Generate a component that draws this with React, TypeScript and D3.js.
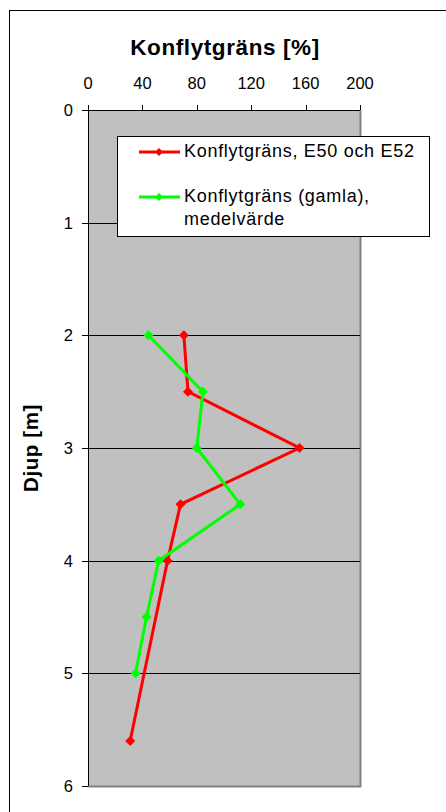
import React from 'react';
import * as d3 from 'd3';

// Konflytgräns (E50 och E52)
const redDepth = [2, 2.5, 3, 3.5, 4, 5.6];
const redValue = [70.5, 73.5, 155.5, 68, 58.5, 31];
// Konflytgräns (gamla), medelvärde
const greenDepth = [2, 2.5, 3, 3.5, 4, 4.5, 5];
const greenValue = [44.5, 84.5, 80, 112, 52, 43, 35];

const xTicks = [0, 40, 80, 120, 160, 200];
const yTicks = [0, 1, 2, 3, 4, 5, 6];
const seriesNames = ['Konflytgräns, E50 och E52', 'Konflytgräns (gamla),', 'medelvärde'];

const W = 446, H = 812;
const margin = { left: 88, top: 110, right: 86, bottom: 26 };
const font = "'Liberation Sans', Arial, sans-serif";

export default function App() {
  const x = d3.scaleLinear().domain([0, 200]).range([margin.left, W - margin.right]);
  const y = d3.scaleLinear().domain([0, 6]).range([margin.top, H - margin.bottom]);

  const line = d3.line<[number, number]>().x(d => x(d[1])).y(d => y(d[0]));
  const redPts: [number, number][] = redDepth.map((d, i) => [d, redValue[i]]);
  const greenPts: [number, number][] = greenDepth.map((d, i) => [d, greenValue[i]]);

  const diamond = (cx: number, cy: number, r: number) =>
    `M${cx},${cy - r}L${cx + r},${cy}L${cx},${cy + r}L${cx - r},${cy}Z`;

  const x0 = x(0), x1 = x(200), y0 = y(0), y1 = y(6);

  return (
    <div style={{ position: 'fixed', left: 0, top: 0 }}>
      <svg width={W} height={H} style={{ display: 'block', fontFamily: font }}>
        <rect x={0} y={0} width={W} height={H} fill='white' />
        {/* outer chart border */}
        <rect x={9.5} y={10.5} width={W + 20} height={H + 20} fill='none' stroke='black' strokeWidth={1} />

        {/* plot area */}
        <rect x={x0} y={y0} width={x1 - x0} height={y1 - y0} fill='#c0c0c0' />
        <line x1={x1 + 0.5} x2={x1 + 0.5} y1={y0} y2={y1 + 1} stroke='#808080' strokeWidth={2} />
        <line x1={x0} x2={x1 + 1} y1={y1 + 0.5} y2={y1 + 0.5} stroke='#808080' strokeWidth={2} />

        {/* gridlines */}
        {yTicks.slice(1, -1).map(t => (
          <line key={t} x1={x0} x2={x1} y1={Math.round(y(t)) + 0.5} y2={Math.round(y(t)) + 0.5} stroke='black' strokeWidth={1} />
        ))}

        {/* top x axis */}
        <line x1={x0} x2={x1} y1={y0 + 0.5} y2={y0 + 0.5} stroke='black' />
        {xTicks.map(t => (
          <g key={t}>
            <line x1={Math.round(x(t)) + 0.5} x2={Math.round(x(t)) + 0.5} y1={y0 - 5} y2={y0} stroke='black' />
            <text x={x(t)} y={y0 - 21} textAnchor='middle' fontSize={16.5}>{t}</text>
          </g>
        ))}

        {/* left y axis */}
        <line x1={x0 + 0.5} x2={x0 + 0.5} y1={y0} y2={y1} stroke='black' />
        {yTicks.map(t => (
          <g key={t}>
            <line x1={x0 - 6} x2={x0} y1={Math.round(y(t)) + 0.5} y2={Math.round(y(t)) + 0.5} stroke='black' />
            <text x={x0 - 15} y={y(t) + 6} textAnchor='end' fontSize={16.5}>{t}</text>
          </g>
        ))}

        {/* titles */}
        <text x={225} y={55} textAnchor='middle' fontSize={22.5} fontWeight='bold' letterSpacing={0.6}>Konflytgräns [%]</text>
        <text transform={`translate(38,${(y0 + y1) / 2}) rotate(-90)`} textAnchor='middle' fontSize={20.5} fontWeight='bold' letterSpacing={0.6}>Djup [m]</text>

        {/* series */}
        <path d={line(redPts) || ''} fill='none' stroke='#ff0000' strokeWidth={3} />
        {redPts.map((p, i) => <path key={i} d={diamond(x(p[1]), y(p[0]), 5)} fill='#ff0000' />)}
        <path d={line(greenPts) || ''} fill='none' stroke='#00ff00' strokeWidth={3} />
        {greenPts.map((p, i) => <path key={i} d={diamond(x(p[1]), y(p[0]), 5)} fill='#00ff00' />)}

        {/* legend */}
        <rect x={117.5} y={136.5} width={312} height={100} fill='white' stroke='black' />
        <line x1={139} x2={180} y1={152} y2={152} stroke='#ff0000' strokeWidth={3} />
        <path d={diamond(159, 152, 4)} fill='#ff0000' />
        <text x={184} y={157} fontSize={18} letterSpacing={0.7}>{seriesNames[0]}</text>
        <line x1={139} x2={180} y1={197} y2={197} stroke='#00ff00' strokeWidth={3} />
        <path d={diamond(159, 197, 4)} fill='#00ff00' />
        <text x={184} y={202} fontSize={18} letterSpacing={0.7}>{seriesNames[1]}</text>
        <text x={184} y={225} fontSize={18} letterSpacing={0.7}>{seriesNames[2]}</text>
      </svg>
    </div>
  );
}
